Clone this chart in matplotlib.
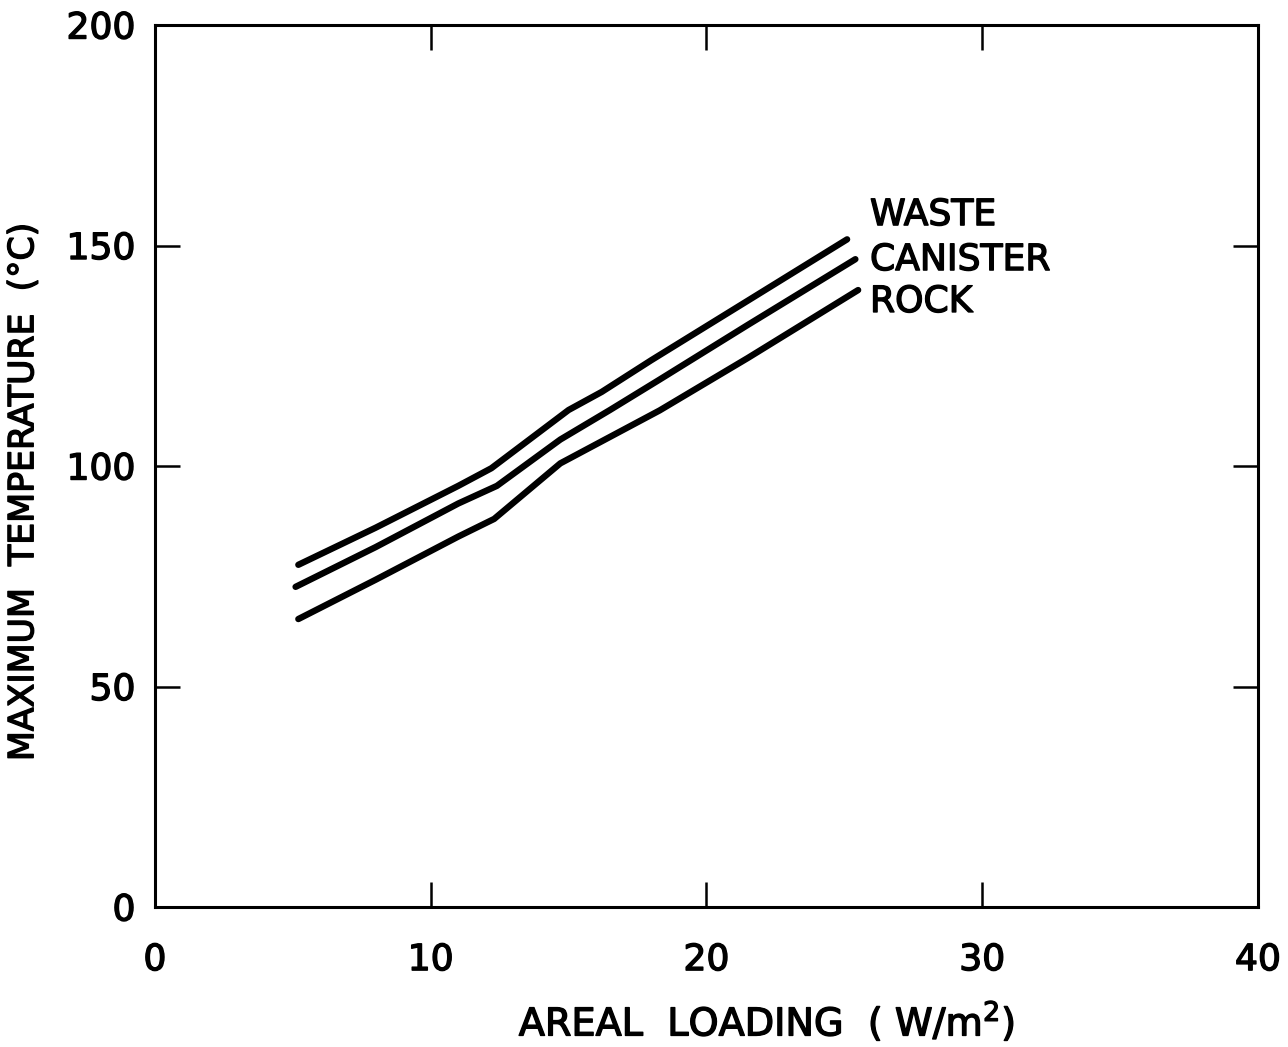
import matplotlib
matplotlib.use('Agg')
import matplotlib.pyplot as plt
import matplotlib.patheffects as pe

# temperature curves
waste_x = [5.2, 8, 11, 12.2, 15, 16.2, 18, 21.5, 25.1]
waste_y = [77.6, 86, 95.5, 99.5, 112.7, 116.8, 124, 137.5, 151.4]
canister_x = [5.1, 8, 11, 12.4, 14.7, 16.5, 18.3, 21.5, 25.4]
canister_y = [72.6, 81.6, 91.5, 95.5, 106.0, 112.7, 119.6, 132, 146.9]
rock_x = [5.2, 8, 11, 12.3, 14.7, 16.5, 18.3, 21.5, 25.5]
rock_y = [65.3, 74.2, 84.0, 88.0, 100.6, 106.6, 112.6, 124.5, 139.9]

labels = ['WASTE', 'CANISTER', 'ROCK']
label_y = [156.9, 146.7, 137.2]
xticks = [0, 10, 20, 30, 40]
yticks = [0, 50, 100, 150, 200]

plt.rcParams['font.family'] = 'DejaVu Sans'

fig = plt.figure(figsize=(12.88, 10.47), dpi=100)
ax = fig.add_axes([0.1203, 0.1337, 0.8564, 0.8424])

for xs, ys in [(waste_x, waste_y), (canister_x, canister_y), (rock_x, rock_y)]:
    ax.plot(xs, ys, color='black', lw=4.6, solid_capstyle='round', solid_joinstyle='round')

for txt, yy in zip(labels, label_y):
    ax.text(25.93, yy, txt, fontsize=26, va='center', ha='left')

ax.set_xlim(0, 40)
ax.set_ylim(0, 200)
ax.set_xticks(xticks)
ax.set_yticks(yticks)
ax.tick_params(direction='in', length=18, width=1.8, labelsize=26,
               top=True, right=True)
ax.tick_params(axis='x', pad=26)
ax.tick_params(axis='y', pad=14)
for s in ax.spines.values():
    s.set_linewidth(2.2)

ax.set_xlabel('AREAL  LOADING  ( W/m$^2$)', fontsize=27.5)
ax.xaxis.set_label_coords(0.555, -0.105)
ax.set_ylabel('MAXIMUM  TEMPERATURE  (°C)', fontsize=25)
ax.yaxis.set_label_coords(-0.104, 0.47)

# heavier lettering like the original stencil text
thick = [pe.withStroke(linewidth=1.0, foreground='black')]
for t in ax.texts + ax.get_xticklabels() + ax.get_yticklabels() + [ax.xaxis.label, ax.yaxis.label]:
    t.set_path_effects(thick)

fig.savefig('out.png', dpi=100, facecolor='white')
